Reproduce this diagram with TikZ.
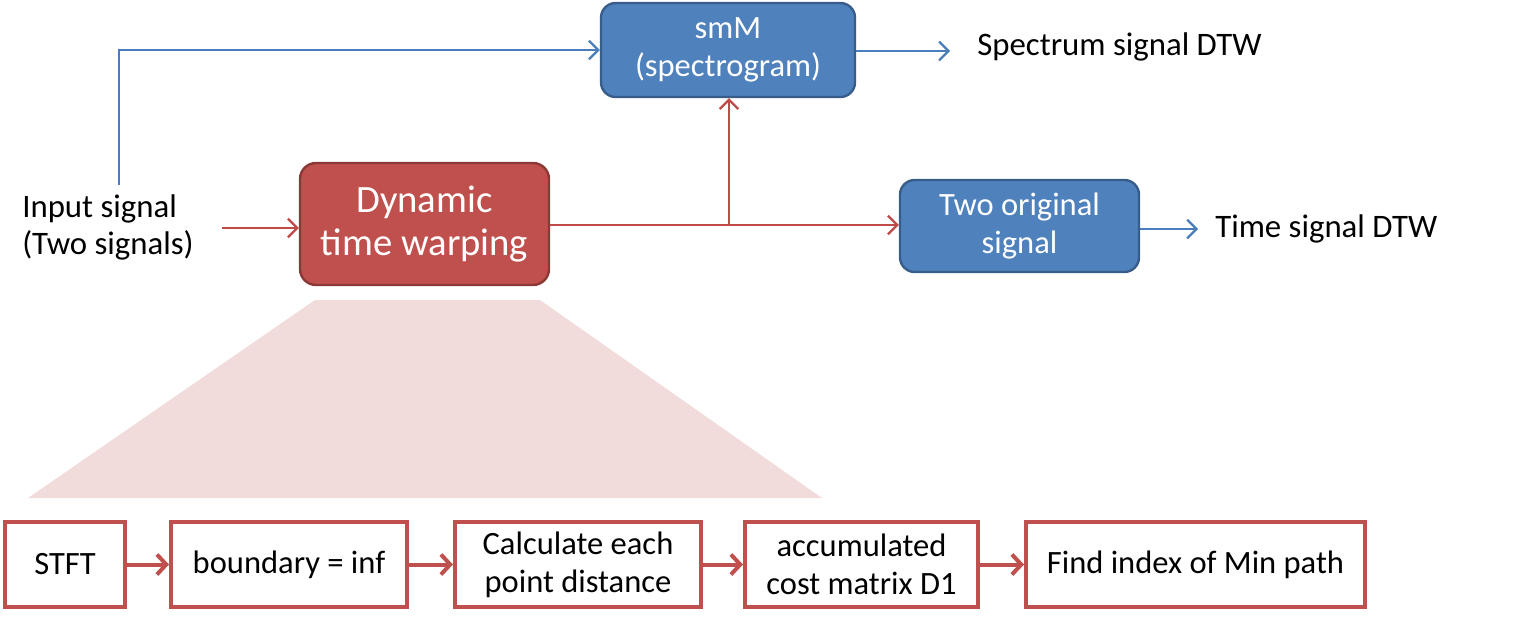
\documentclass[tikz,border=0pt]{standalone}
\usepackage{fontspec}
\setmainfont{Carlito}
\usetikzlibrary{arrows.meta}
\definecolor{bfill}{HTML}{4F81BD}
\definecolor{bdraw}{HTML}{385D8A}
\definecolor{rfill}{HTML}{C0504D}
\definecolor{rdraw}{HTML}{8C3836}
\definecolor{bline}{HTML}{4A7EBB}
\definecolor{rline}{HTML}{BE4B48}
\definecolor{trap}{HTML}{F2DCDB}
\tikzset{
  txt/.style={font=\fontsize{24.6}{27.75}\selectfont, inner sep=0pt},
  bluebox/.style={draw=bdraw, line width=1.8pt, fill=bfill, rounded corners=11pt, text=white,
     align=center, font=\fontsize{24.4}{28.5}\selectfont, inner sep=0pt},
  redbox/.style={draw=rdraw, line width=1.8pt, fill=rfill, rounded corners=12pt, text=white,
     align=center, font=\fontsize{29}{32}\selectfont, inner sep=0pt},
  stepbox/.style={draw=rfill, line width=3pt, fill=white, align=center,
     font=\fontsize{24.4}{28.5}\selectfont, inner sep=0pt},
  barrow/.style={draw=bline, line width=1.7pt, -{Straight Barb[length=7pt,width=14pt,line width=1.7pt]}},
  rarrow/.style={draw=rline, line width=1.7pt, -{Straight Barb[length=7pt,width=14pt,line width=1.7pt]}},
  sarrow/.style={draw=rfill, line width=3pt, -{Straight Barb[length=7pt,width=15pt,line width=3pt]}},
}
\begin{document}
\begin{tikzpicture}[x=0.75pt,y=-0.75pt]
\useasboundingbox (0,0) rectangle (1530,625);

% trapezoid
\fill[trap] (315,300) -- (540,300) -- (822,498) -- (28,498) -- cycle;

% top boxes
\node[bluebox, minimum width=254*0.75pt, minimum height=94*0.75pt] (smm) at (728,50) {smM\\(spectrogram)};
\node[redbox, minimum width=249*0.75pt, minimum height=122*0.75pt] (dtw) at (424.5,224) {Dynamic\\time warping};
\node[bluebox, minimum width=239*0.75pt, minimum height=92*0.75pt] (two) at (1019.5,226) {Two original\\signal};

% texts
\node[txt, anchor=west, align=left] (inp) at (22,227) {Input signal\\(Two signals)};
\node[txt, anchor=west] (spec) at (977,47) {Spectrum signal DTW};
\node[txt, anchor=west] (tim) at (1215,229) {Time signal DTW};

% coordinates
\coordinate (bup) at (119,185);
\coordinate (bcorner) at (119,50);
\coordinate (inend) at (222,228);
\coordinate (branch) at (729,225);
\coordinate (specend) at (950,51);
\coordinate (timend) at (1198,229);

% connectors
\draw[barrow] (bup) -- (bcorner) -- (smm.west);
\draw[barrow] (smm.east |- specend) -- (specend);
\draw[barrow] (two.east |- timend) -- (timend);
\draw[rarrow] (inend) -- (dtw.west |- inend);
\draw[rarrow] (dtw.east |- branch) -- (two.west |- branch);
\draw[rarrow] (branch) -- (branch |- smm.south);

% bottom steps
\node[stepbox, minimum width=120*0.75pt, minimum height=85*0.75pt] (s1) at (65,564.5) {STFT};
\node[stepbox, minimum width=236*0.75pt, minimum height=85*0.75pt] (s2) at (289,564.5) {boundary = inf};
\node[stepbox, minimum width=246*0.75pt, minimum height=85*0.75pt] (s3) at (578,564.5) {Calculate each\\point distance};
\node[stepbox, minimum width=233*0.75pt, minimum height=85*0.75pt] (s4) at (861.5,564.5) {accumulated\\cost matrix D1};
\node[stepbox, minimum width=339*0.75pt, minimum height=85*0.75pt] (s5) at (1195.5,564.5) {Find index of Min path};

\draw[sarrow] (s1) -- (s2);
\draw[sarrow] (s2) -- (s3);
\draw[sarrow] (s3) -- (s4);
\draw[sarrow] (s4) -- (s5);
\end{tikzpicture}
\end{document}
